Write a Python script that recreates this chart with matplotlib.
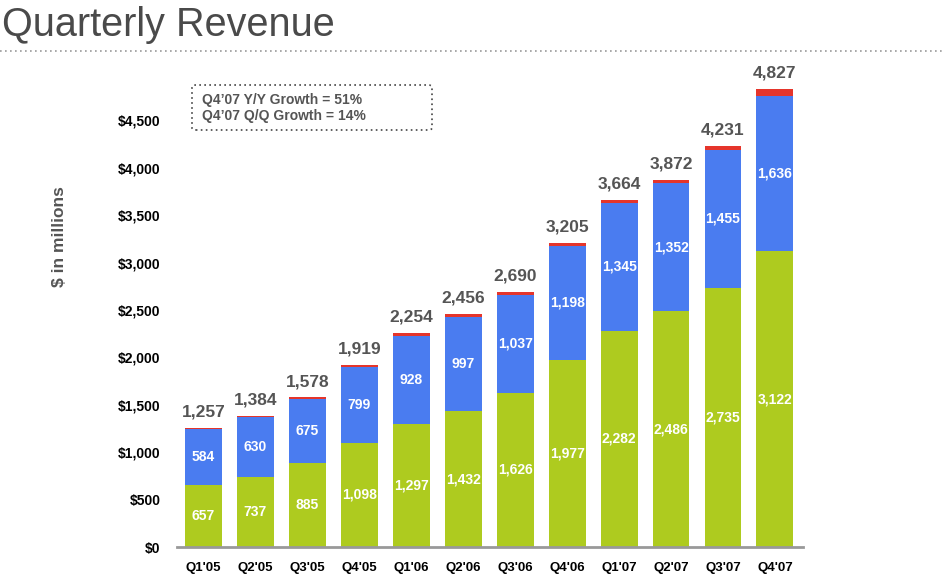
import matplotlib
matplotlib.use("Agg")
import matplotlib.pyplot as plt
from matplotlib.patches import FancyBboxPatch

plt.rcParams['font.family'] = ['Liberation Sans', 'DejaVu Sans']

# quarterly revenue data ($ in millions)
quarters = ["Q1'05", "Q2'05", "Q3'05", "Q4'05", "Q1'06", "Q2'06",
            "Q3'06", "Q4'06", "Q1'07", "Q2'07", "Q3'07", "Q4'07"]
green_vals = [657, 737, 885, 1098, 1297, 1432, 1626, 1977, 2282, 2486, 2735, 3122]
blue_vals = [584, 630, 675, 799, 928, 997, 1037, 1198, 1345, 1352, 1455, 1636]
red_vals = [16, 17, 18, 22, 29, 27, 27, 30, 37, 34, 41, 69]
totals = [1257, 1384, 1578, 1919, 2254, 2456, 2690, 3205, 3664, 3872, 4231, 4827]
yticks = [0, 500, 1000, 1500, 2000, 2500, 3000, 3500, 4000, 4500]

GREEN = '#AECB1F'
BLUE = '#4A7CF0'
RED = '#E5352B'
GREY = '#555555'

fig = plt.figure(figsize=(9.43, 5.74), dpi=100)
ax = fig.add_axes([0.1877, 0.047, 0.6638, 0.826])

x = list(range(len(quarters)))
w = 0.71
ax.bar(x, green_vals, w, color=GREEN, zorder=2)
blue_bottom = green_vals
ax.bar(x, blue_vals, w, bottom=blue_bottom, color=BLUE, zorder=2)
red_bottom = [g + b for g, b in zip(green_vals, blue_vals)]
ax.bar(x, red_vals, w, bottom=red_bottom, color=RED, zorder=2)

def fmt(v):
    return "{:,}".format(v)

for i in x:
    ax.text(i, green_vals[i] / 2, fmt(green_vals[i]), ha='center', va='center',
            color='white', fontsize=10, fontweight='bold', zorder=3)
    ax.text(i, green_vals[i] + blue_vals[i] / 2, fmt(blue_vals[i]), ha='center',
            va='center', color='white', fontsize=10, fontweight='bold', zorder=3)
    ax.annotate(fmt(totals[i]), (i, red_bottom[i] + red_vals[i]),
                xytext=(0, 6), textcoords='offset points', ha='center',
                va='bottom', color=GREY, fontsize=12.5, fontweight='bold',
                annotation_clip=False)

ax.set_xlim(-0.51, 11.54)
ax.set_ylim(0, 5000)
ax.set_xticks(x)
ax.set_xticklabels(quarters, fontsize=9.5, fontweight='bold')
ax.set_yticks(yticks)
ax.set_yticklabels(["$" + fmt(v) for v in yticks], fontsize=10, fontweight='bold')
ax.tick_params(axis='x', length=0, pad=11)
ax.tick_params(axis='y', length=0, pad=12)
for s in ['top', 'right', 'left']:
    ax.spines[s].set_visible(False)
ax.spines['bottom'].set_color('#999999')
ax.spines['bottom'].set_linewidth(2)
ax.spines['bottom'].set_zorder(4)
ax.set_facecolor('none')

ax.set_ylabel("$ in millions", fontsize=12.5, fontweight='bold', color=GREY, labelpad=0)
ax.yaxis.set_label_coords(-0.175, 0.655)

# title and dotted rule
fig.text(0.002, 0.99, "Quarterly Revenue", fontsize=28.5, color='#4a4a4a', va='top', ha='left')
fig.add_artist(plt.Line2D([0.0, 1.0], [0.912, 0.912], transform=fig.transFigure,
                          color='#9a9a9a', lw=1.2, ls=(0, (1, 2))))

# growth box
box = FancyBboxPatch((192 / 943, 1 - 130 / 574), 240 / 943, 45 / 574,
                     boxstyle='round,pad=0,rounding_size=0.004', transform=fig.transFigure,
                     fill=False, ec='#444444', lw=1.2, ls=(0, (1, 2)))
fig.add_artist(box)
fig.text(202 / 943, 1 - 100 / 574, "Q4\u201907 Y/Y Growth = 51%", fontsize=10,
         fontweight='bold', color=GREY, va='center')
fig.text(202 / 943, 1 - 116 / 574, "Q4\u201907 Q/Q Growth = 14%", fontsize=10,
         fontweight='bold', color=GREY, va='center')

fig.savefig("out.png", dpi=100)
